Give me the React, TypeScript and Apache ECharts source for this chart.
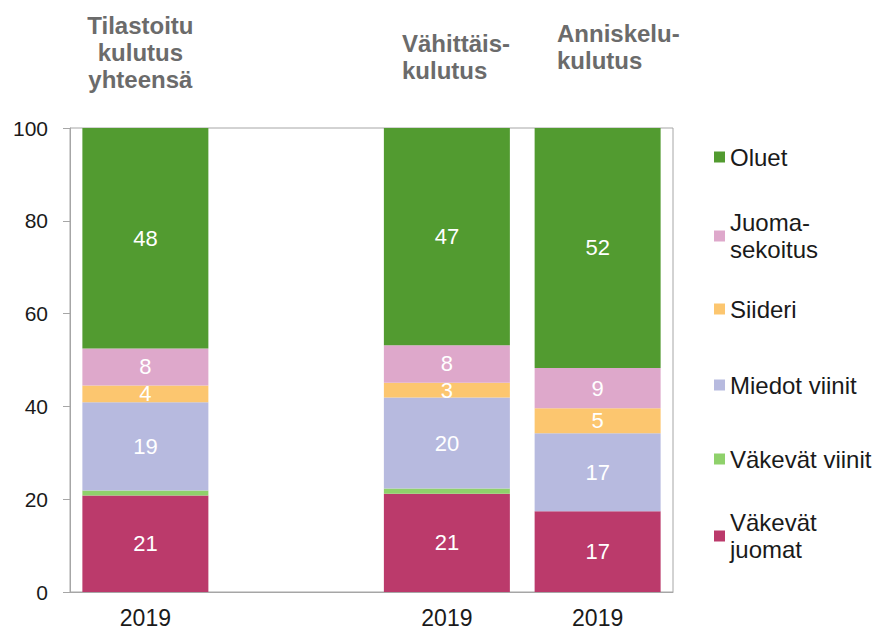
import React, { useEffect, useRef } from "react";
import * as echarts from "echarts";

const yearLabels = ["2019", "", "2019", "2019"];
const groupTitles = ["Tilastoitu\nkulutus\nyhteensä", "", "Vähittäis-\nkulutus", "Anniskelu-\nkulutus"];

const seriesNames = ["Väkevät juomat", "Väkevät viinit", "Miedot viinit", "Siideri", "Juomasekoitus", "Oluet"];
const legendLabels = ["Väkevät\njuomat", "Väkevät viinit", "Miedot viinit", "Siideri", "Juoma-\nsekoitus", "Oluet"];
const colors = ["#bb3a6b", "#8fd16b", "#b7badf", "#fcc66f", "#dea8cb", "#529b30"];

const vakevatJuomat = [20.8, null, 21.2, 17.4];
const vakevatViinit = [1.1, null, 1.1, 0];
const miedotViinit = [19.0, null, 19.6, 16.8];
const siideri = [3.6, null, 3.2, 5.4];
const juomasekoitus = [8.0, null, 8.1, 8.7];
const oluet = [47.5, null, 46.8, 51.7];

const seriesData = [vakevatJuomat, vakevatViinit, miedotViinit, siideri, juomasekoitus, oluet];

const FONT = "'Liberation Sans', Arial, sans-serif";

// legend vertical centers (layout)
const legendCenters = [536, 459, 385, 309, 236, 157];

export default function App() {
  const ref = useRef<HTMLDivElement>(null);
  useEffect(() => {
    if (!ref.current) return;
    const chart = echarts.init(ref.current, undefined, { renderer: "svg" });
    const gridLeft = 70;
    const gridRight = 203;
    const plotW = 876 - gridLeft - gridRight;
    const catW = plotW / yearLabels.length;
    const titleLayout = [
      { x: gridLeft + catW * 0.5 - 5, align: "center", y: 12 },
      null,
      { x: 402, align: "left", y: 30 },
      { x: 557, align: "left", y: 20 },
    ];
    const graphics: any[] = [];
    groupTitles.forEach((t, i) => {
      const l = titleLayout[i];
      if (!t || !l) return;
      graphics.push({
        type: "text",
        x: l.x,
        y: l.y,
        style: {
          text: t,
          align: l.align,
          verticalAlign: "top",
          font: `bold 24px ${FONT}`,
          lineHeight: 27,
          fill: "#6b6b6b",
        },
      });
    });

    const legends = seriesNames.map((name, i) => {
      const multi = legendLabels[i].includes("\n");
      return {
        data: [name],
        left: 714,
        top: legendCenters[i] - (multi ? 40.5 : 13.5),
        orient: "vertical",
        padding: 0,
        itemWidth: 11,
        itemHeight: 11,
        icon: "rect",
        selectedMode: false,
        formatter: () => legendLabels[i],
        textStyle: {
          fontFamily: FONT,
          fontSize: 24,
          color: "#1a1a1a",
          lineHeight: 27,
          padding: multi ? [27, 0, 0, 0] : 0,
        },
      };
    });

    chart.setOption({
      animation: false,
      color: colors,
      grid: {
        left: gridLeft,
        right: gridRight,
        top: 128,
        bottom: 37,
        show: true,
        borderColor: "#a6a6a6",
        borderWidth: 1,
      },
      graphic: graphics,
      legend: legends,
      xAxis: {
        type: "category",
        data: yearLabels,
        axisLine: { show: true, lineStyle: { color: "#a6a6a6" } },
        axisTick: { show: false },
        axisLabel: { fontFamily: FONT, fontSize: 23, color: "#1a1a1a", margin: 14 },
      },
      yAxis: {
        type: "value",
        min: 0,
        max: 100,
        interval: 20,
        splitLine: { show: false },
        axisLine: { show: true, lineStyle: { color: "#a6a6a6" } },
        axisTick: { show: true, length: 7, lineStyle: { color: "#a6a6a6" } },
        axisLabel: { fontFamily: FONT, fontSize: 21, color: "#1a1a1a", margin: 22 },
      },
      series: seriesNames.map((name, i) => ({
        name,
        type: "bar",
        stack: "total",
        barWidth: 126,
        data: seriesData[i],
        itemStyle: { color: colors[i] },
        label: {
          show: true,
          position: "inside",
          fontFamily: FONT,
          fontSize: 22,
          color: "#ffffff",
          formatter: (p: any) => (p.value == null || p.value < 2 ? "" : String(Math.round(p.value))),
        },
      })),
    });
    return () => chart.dispose();
  }, []);
  return (
    <div
      ref={ref}
      style={{ position: "fixed", left: 0, top: 0, width: 876, height: 629, background: "#fff" }}
    />
  );
}
